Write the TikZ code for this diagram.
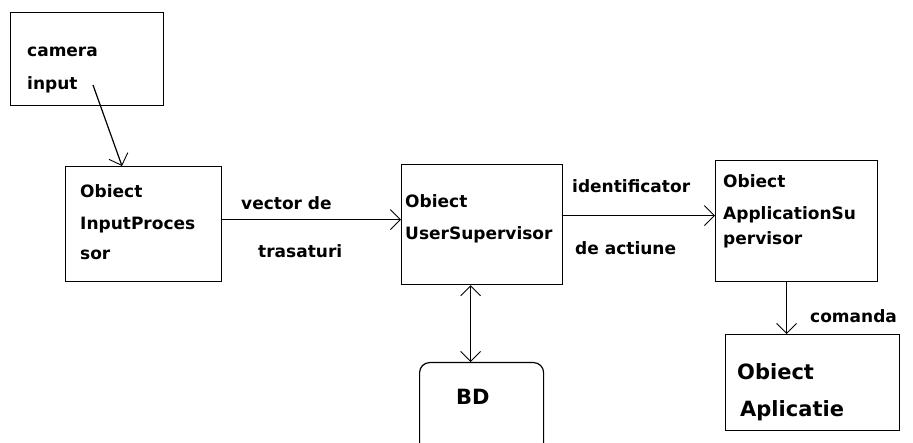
\documentclass[tikz,border=0pt]{standalone}
\usepackage{fontspec}
\setmainfont{DejaVu Sans}
\usetikzlibrary{arrows.meta}
\begin{document}
\begin{tikzpicture}[x=1pt,y=-1pt,
  box/.style={draw,line width=1.2pt,inner sep=0pt,anchor=north west},
  txt/.style={anchor=base west,inner sep=0pt,font=\bfseries\fontsize{17}{20}\selectfont},
  bigtxt/.style={anchor=base west,inner sep=0pt,font=\bfseries\fontsize{21}{24}\selectfont},
  arr/.style={line width=1.2pt,-{Straight Barb[length=10pt,width=20pt,line width=0.9pt]}},
  arrtwo/.style={line width=1.2pt,{Straight Barb[length=10pt,width=20pt,line width=0.9pt]}-{Straight Barb[length=10pt,width=20pt,line width=0.9pt]}}]
\useasboundingbox (0,0) rectangle (913,443);
% boxes
\node[box,minimum width=153pt,minimum height=93pt] (cam) at (10,12) {};
\node[box,minimum width=156pt,minimum height=115pt] (inp) at (65,166) {};
\node[box,minimum width=161pt,minimum height=120pt] (usr) at (401,164) {};
\node[box,minimum width=162pt,minimum height=121pt] (app) at (715,160) {};
\node[box,minimum width=174pt,minimum height=96pt] (apl) at (725,334) {};
\node[box,rounded corners=10pt,minimum width=124pt,minimum height=90pt] (bd) at (419,362) {};
% texts
\node[txt] (t1) at (27,57) {camera};
\node[txt] (t2) at (27,90) {input};
\node[txt] (t3) at (80,198) {Obiect};
\node[txt] (t4) at (80,230) {InputProces};
\node[txt] (t5) at (80,260) {sor};
\node[txt] (t6) at (241,210) {vector de};
\node[txt] (t7) at (258,258) {trasaturi};
\node[txt] (t8) at (405,208) {Obiect};
\node[txt] (t9) at (405,240) {UserSupervisor};
\node[txt] (t10) at (572,193) {identificator};
\node[txt] (t11) at (575,255) {de actiune};
\node[txt] (t12) at (723,188) {Obiect};
\node[txt] (t13) at (723,220) {ApplicationSu};
\node[txt] (t14) at (723,245) {pervisor};
\node[txt] (t15) at (810,323) {comanda};
\node[bigtxt] (t16) at (737,380) {Obiect};
\node[bigtxt] (t17) at (740,417) {Aplicatie};
\node[bigtxt] (t18) at (456,405) {BD};
% connectors
\coordinate (cstart) at (93,85);
\draw[arr] (cstart) -- ([xshift=57pt]inp.north west);
\draw[arr] ([yshift=4.5pt]inp.east) -- ([yshift=4.5pt]inp.east -| usr.west);
\draw[arr,line width=1.8pt] ([yshift=9pt]usr.east) -- ([yshift=9pt]usr.east -| app.west);
\draw[arrtwo] ([xshift=-11.5pt]usr.south) -- ([xshift=-11.5pt]usr.south |- bd.north);
\draw[arr] ([xshift=-10pt]app.south) -- ([xshift=-10pt]app.south |- apl.north);
\end{tikzpicture}
\end{document}
